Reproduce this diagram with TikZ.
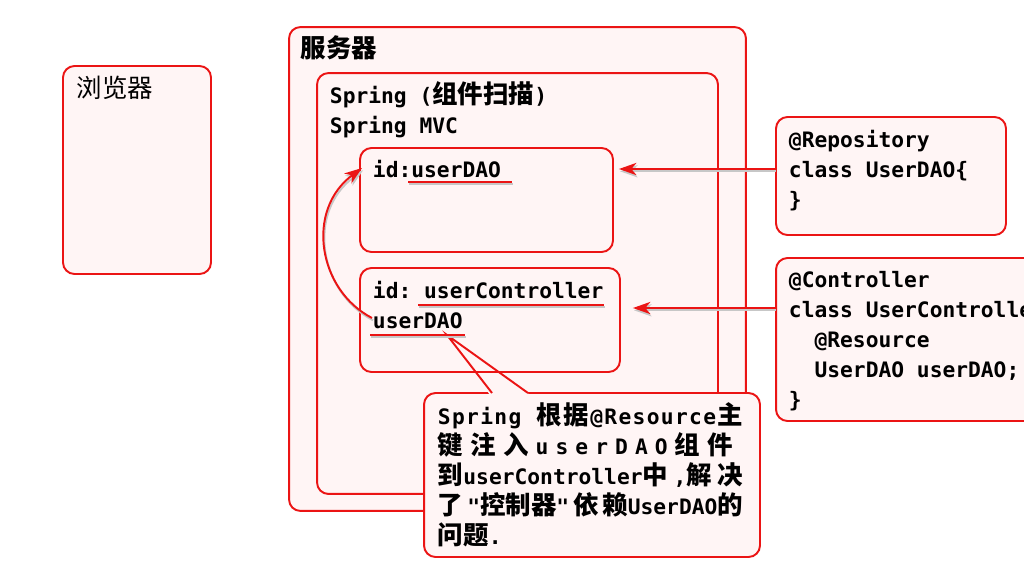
\documentclass[tikz,border=0pt]{standalone}
\usepackage{fontspec}
\usetikzlibrary{arrows.meta}
\setmonofont{DejaVu Sans Mono}
\newfontfamily\cjk{Noto Sans CJK SC}
\newcommand{\zh}[1]{{\cjk\fontsize{14.5}{17}\selectfont\bfseries #1}}
\definecolor{boxred}{RGB}{235,20,20}
\definecolor{boxfill}{RGB}{255,245,245}

\begin{document}
\begin{tikzpicture}[x=0.02cm,y=-0.02cm,line width=1.1pt,>={Stealth[length=10pt,width=7pt,inset=3pt]},
  box/.style={draw=boxred,fill=boxfill,rounded corners=6.5pt,inner sep=0pt},
  code/.style={font=\fontsize{12.1}{17.07}\selectfont\ttfamily\bfseries,align=left,inner sep=0pt,anchor=base west},
  shadowed/.style={preaction={draw=black!22,transform canvas={shift={(0.6pt,-1.3pt)}}}},
  link/.style={draw=boxred,->,shadowed},
  uline/.style={draw=boxred,line width=1.4pt,shadowed}]
  \useasboundingbox (0,0) rectangle (1024,578);
  \clip (0,0) rectangle (1024,578);

  % boxes
  \node[box,minimum width=2.96cm,minimum height=4.16cm] (browser) at (137,170) {};
  \node[box,minimum width=9.14cm,minimum height=9.68cm] (server) at (517.5,269) {};
  \node[box,minimum width=8.02cm,minimum height=8.42cm] (spring) at (517.5,283.5) {};
  \node[box,minimum width=6.72cm,minimum height=3.28cm] (note) at (592,475) {};
  \coordinate (tip) at (447,335);
  \fill[boxfill] (490,395) -- (tip) -- (530,395) -- cycle;
  \node[box,minimum width=5.06cm,minimum height=2.08cm] (dao) at (486.5,200) {};
  \node[box,minimum width=5.2cm,minimum height=2.08cm] (ctrl) at (490,320) {};
  \node[box,minimum width=4.6cm,minimum height=2.36cm] (repo) at (891,176) {};
  \node[box,minimum width=5.28cm,minimum height=3.26cm] (ctrlsrc) at (908,339.5) {};
  \draw[boxred] (492,393) -- (tip) -- (528,393);

  % labels (base = last line)
  \node[code] (browserlabel) at (76,97) {{\cjk\fontsize{14.5}{17}\selectfont\mdseries 浏览器}};
  \node[code] (serverlabel) at (300,57) {\zh{服务器}};
  \node[code] (springlabel) at (329,133) {Spring (\zh{组件扫描})\\Spring MVC};
  \node[code] (daolabel) at (372,177) {id:userDAO};
  \node[code] (ctrllabel) at (372,328) {id: userController\\userDAO};
  \node[code] (repolabel) at (788,207) {@Repository\\class UserDAO\{\\\}};
  \node[code] (ctrlsrclabel) at (788,407) {@Controller\\class UserController\{\\\phantom{xx}@Resource\\\phantom{xx}UserDAO userDAO;\\\}};
  \node[code] (notelabel) at (437,544) {%
    \makebox[6.1cm][s]{S\hfil p\hfil r\hfil i\hfil n\hfil g\hfil\ \hfil\zh{根}\hfil\zh{据}\hfil @\hfil R\hfil e\hfil s\hfil o\hfil u\hfil r\hfil c\hfil e\hfil\zh{主}}\\
    \makebox[5.9cm][s]{\zh{键}\hfill\zh{注}\hfill\zh{入}\hfill u\hfill s\hfill e\hfill r\hfill D\hfill A\hfill O\hfill\zh{组}\hfill\zh{件}}\\
    \makebox[6.1cm][s]{\zh{到}userController\zh{中}\hfil,\zh{解}\hfil\zh{决}}\\
    \makebox[6.1cm][s]{\zh{了}\hfil"\zh{控制器}"\hfil\zh{依}\hfil\zh{赖}UserDAO\zh{的}}\\
    \zh{问题}.};

  % underlines
  \draw[uline] (408,182) -- (512,182);
  \draw[uline] (418,305) -- (604,305);
  \draw[uline] (370,335) -- (465,335);

  % arrows
  \coordinate (daoarrow) at (0,169);
  \coordinate (ctrlarrow) at (0,308);
  \draw[link] (repo.west |- daoarrow) -- ([xshift=0.1cm]dao.east |- daoarrow);
  \draw[link] (ctrlsrc.west |- ctrlarrow) -- ([xshift=0.24cm]ctrl.east |- ctrlarrow);
  \coordinate (curvefrom) at (372,318);
  \coordinate (curveto) at (362,168);
  \draw[link] (curvefrom) .. controls (318,290) and (305,210) .. (curveto);
\end{tikzpicture}
\end{document}
